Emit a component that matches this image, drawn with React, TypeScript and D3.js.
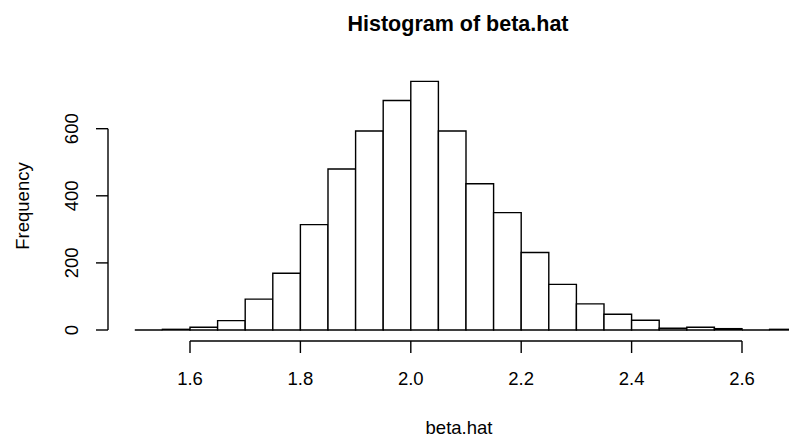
import { useEffect, useRef } from 'react';
import * as d3 from 'd3';

// histogram bins (width 0.05) starting at 1.5
const binStarts = [1.5, 1.55, 1.6, 1.65, 1.7, 1.75, 1.8, 1.85, 1.9, 1.95, 2.0, 2.05,
  2.1, 2.15, 2.2, 2.25, 2.3, 2.35, 2.4, 2.45, 2.5, 2.55, 2.6, 2.65];
const counts = [0, 2, 8, 28, 92, 169, 314, 480, 593, 684, 741, 593,
  436, 350, 231, 136, 78, 47, 29, 5, 8, 4, 0, 2];
const binWidth = 0.05;

const xTicks = [1.6, 1.8, 2.0, 2.2, 2.4, 2.6];
const yTicks = [0, 200, 400, 600];

const title = 'Histogram of beta.hat';
const xLabel = 'beta.hat';
const yLabel = 'Frequency';

export default function App() {
  const ref = useRef<SVGSVGElement>(null);

  useEffect(() => {
    const svg = d3.select(ref.current);
    svg.selectAll('*').remove();

    const font = '"Liberation Sans", Arial, Helvetica, sans-serif';
    const x = d3.scaleLinear().domain([1.6, 2.6]).range([190, 742]);
    const y = d3.scaleLinear().domain([0, 600]).range([330, 128.7]);

    const axisY = 341; // bottom of plot region
    const axisX = 108; // left of plot region

    // bars as closed paths so empty bins still show their outline
    svg.append('g')
      .selectAll('path')
      .data(binStarts.map((s, i) => ({ s, n: counts[i] })))
      .enter()
      .append('path')
      .attr('d', d => {
        const x0 = x(d.s), x1 = x(d.s + binWidth);
        const y0 = y(0), y1 = y(d.n);
        return `M${x0},${y0}L${x0},${y1}L${x1},${y1}L${x1},${y0}Z`;
      })
      .attr('fill', 'white')
      .attr('stroke', 'black')
      .attr('stroke-width', 1.4);

    // x axis
    const gx = svg.append('g').attr('stroke', 'black').attr('stroke-width', 1.4);
    gx.append('line')
      .attr('x1', x(xTicks[0])).attr('x2', x(xTicks[xTicks.length - 1]))
      .attr('y1', axisY).attr('y2', axisY);
    gx.selectAll('line.tick')
      .data(xTicks)
      .enter()
      .append('line')
      .attr('class', 'tick')
      .attr('x1', d => x(d)).attr('x2', d => x(d))
      .attr('y1', axisY).attr('y2', axisY + 12);
    svg.append('g')
      .selectAll('text')
      .data(xTicks)
      .enter()
      .append('text')
      .attr('x', d => x(d))
      .attr('y', 385)
      .attr('text-anchor', 'middle')
      .attr('font-family', font)
      .attr('font-size', 18.5)
      .text(d => d.toFixed(1));

    // y axis
    const gy = svg.append('g').attr('stroke', 'black').attr('stroke-width', 1.4);
    gy.append('line')
      .attr('x1', axisX).attr('x2', axisX)
      .attr('y1', y(yTicks[0])).attr('y2', y(yTicks[yTicks.length - 1]));
    gy.selectAll('line.tick')
      .data(yTicks)
      .enter()
      .append('line')
      .attr('class', 'tick')
      .attr('x1', axisX - 12).attr('x2', axisX)
      .attr('y1', d => y(d)).attr('y2', d => y(d));
    svg.append('g')
      .selectAll('text')
      .data(yTicks)
      .enter()
      .append('text')
      .attr('transform', d => `translate(78,${y(d)}) rotate(-90)`)
      .attr('text-anchor', 'middle')
      .attr('font-family', font)
      .attr('font-size', 18.5)
      .text(d => String(d));

    // titles
    svg.append('text')
      .attr('x', 458)
      .attr('y', 31)
      .attr('text-anchor', 'middle')
      .attr('font-family', font)
      .attr('font-weight', 'bold')
      .attr('font-size', 21.5)
      .text(title);

    svg.append('text')
      .attr('x', 459)
      .attr('y', 434)
      .attr('text-anchor', 'middle')
      .attr('font-family', font)
      .attr('font-size', 18.5)
      .text(xLabel);

    svg.append('text')
      .attr('transform', 'translate(29,206) rotate(-90)')
      .attr('text-anchor', 'middle')
      .attr('font-family', font)
      .attr('font-size', 18.5)
      .text(yLabel);
  }, []);

  return (
    <svg
      ref={ref}
      width={789}
      height={439}
      style={{ position: 'absolute', left: 0, top: 0, background: 'white' }}
    />
  );
}
